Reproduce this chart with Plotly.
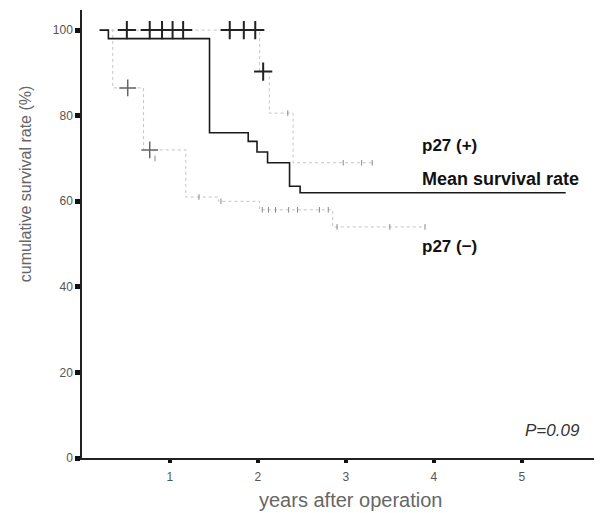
import plotly.graph_objects as go

# Mean survival rate (solid step curve)
mean_x = [0.2, 0.3, 1.45, 1.89, 1.99, 2.11, 2.36, 2.48, 5.5]
mean_y = [100, 98, 76, 74, 71.5, 69, 63.5, 62, 62]

# p27(+) step curve (dotted, faint)
pos_x = [0.2, 2.02, 2.13, 2.4, 3.3]
pos_y = [100, 90.3, 80.6, 69, 69]
pos_cross_x = [0.51, 0.77, 0.91, 1.03, 1.15, 1.68, 1.84, 1.97, 2.06]
pos_cross_y = [100, 100, 100, 100, 100, 100, 100, 100, 90.3]
pos_tick_x = [2.34, 2.97, 3.18, 3.3]
pos_tick_y = [80.6, 69, 69, 69]

# p27(-) step curve (dotted, faint)
neg_x = [0.2, 0.35, 0.7, 1.18, 1.55, 2.02, 2.85, 3.9]
neg_y = [100, 86.5, 72, 61, 60, 58, 54, 54]
neg_cross_x = [0.52, 0.77]
neg_cross_y = [86.5, 72]
neg_tick_x = [0.83, 1.33, 1.58, 2.05, 2.12, 2.2, 2.35, 2.45, 2.7, 2.8, 2.9, 3.5, 3.9]
neg_tick_y = [70, 61, 60, 58, 58, 58, 58, 58, 58, 58, 54, 54, 54]

x_ticks = [1, 2, 3, 4, 5]
y_ticks = [0, 20, 40, 60, 80, 100]

fig = go.Figure()
fig.add_trace(go.Scatter(x=pos_x, y=pos_y, mode="lines", line_shape="hv",
                         line=dict(color="#c4c4c4", width=1, dash="dot"), hoverinfo="skip"))
fig.add_trace(go.Scatter(x=neg_x, y=neg_y, mode="lines", line_shape="hv",
                         line=dict(color="#c4c4c4", width=1, dash="dot"), hoverinfo="skip"))
fig.add_trace(go.Scatter(x=mean_x, y=mean_y, mode="lines", line_shape="hv",
                         line=dict(color="#1a1a1a", width=1.6), hoverinfo="skip"))
fig.add_trace(go.Scatter(x=pos_cross_x, y=pos_cross_y, mode="markers",
                         marker=dict(symbol="cross-thin", size=13, line=dict(color="#222", width=2))))
fig.add_trace(go.Scatter(x=neg_cross_x, y=neg_cross_y, mode="markers",
                         marker=dict(symbol="cross-thin", size=12, line=dict(color="#666", width=1.5))))
fig.add_trace(go.Scatter(x=pos_tick_x + neg_tick_x, y=pos_tick_y + neg_tick_y, mode="markers",
                         marker=dict(symbol="line-ns", size=4, line=dict(color="#888", width=1))))

fig.update_layout(
    width=602, height=513, showlegend=False,
    plot_bgcolor="white", paper_bgcolor="white",
    margin=dict(l=74, r=10, t=2, b=63),
    font=dict(family="Liberation Sans, Arial, sans-serif", color="#555"),
    xaxis=dict(range=[0, 5.89], tickvals=x_ticks, ticktext=[str(t) for t in x_ticks],
               showgrid=False, zeroline=False, showline=True, linecolor="#222", linewidth=1.5,
               ticks="outside", ticklen=3, tickwidth=4, tickcolor="#111",
               ticklabelstandoff=4,
               tickfont=dict(size=12, color="#555")),
    yaxis=dict(range=[0, 104.7], tickvals=y_ticks, ticktext=[str(t) for t in y_ticks],
               showgrid=False, zeroline=False, showline=True, linecolor="#222", linewidth=1.5,
               ticks="outside", ticklen=5, tickwidth=5, tickcolor="#111",
               tickfont=dict(size=12, color="#555")),
)

# axis titles as annotations (positioned like the reference)
fig.add_annotation(xref="paper", yref="y", x=-0.110, y=64, text="cumulative survival rate (%)",
                   textangle=-90, showarrow=False, xanchor="center", yanchor="middle",
                   font=dict(size=16, color="#666"))
fig.add_annotation(xref="x", yref="paper", x=3.05, y=-0.065, text="years after operation",
                   showarrow=False, xanchor="center", yanchor="top",
                   font=dict(size=20, color="#666"))

fig.add_annotation(x=3.84, y=73.1, text="<b>p27 (+)</b>", showarrow=False, xanchor="left",
                   font=dict(size=17, color="#111"))
fig.add_annotation(x=3.84, y=65.2, text="<b>Mean survival rate</b>", showarrow=False, xanchor="left",
                   font=dict(size=18, color="#111"))
fig.add_annotation(x=3.84, y=49.5, text="<b>p27 (−)</b>", showarrow=False, xanchor="left",
                   font=dict(size=17, color="#111"))
fig.add_annotation(x=5.68, y=6.5, text="<i>P=0.09</i>", showarrow=False, xanchor="right",
                   font=dict(size=17, color="#333"))

fig.write_html("out.html")
